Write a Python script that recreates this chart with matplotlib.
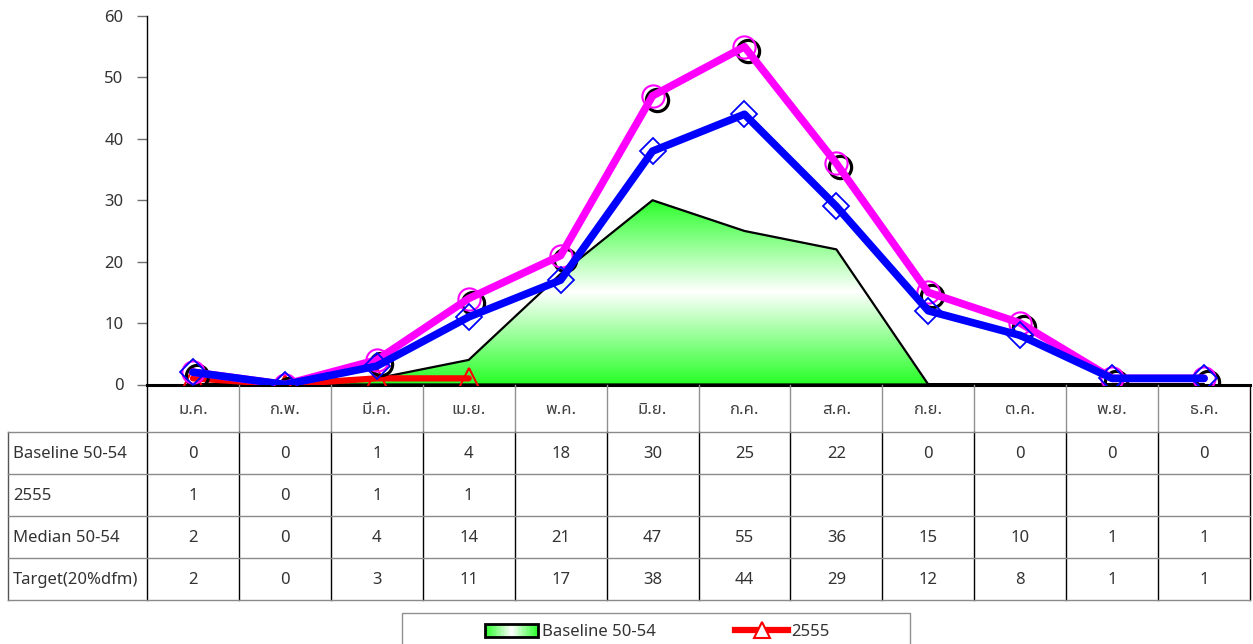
import matplotlib
matplotlib.use("Agg")
import matplotlib.pyplot as plt
import numpy as np
from matplotlib.lines import Line2D
from matplotlib.patches import Rectangle, Patch
from matplotlib.legend_handler import HandlerBase
from matplotlib.transforms import offset_copy

plt.rcParams['font.family'] = ['Noto Sans Thai', 'Noto Sans', 'DejaVu Sans']

# ---------------- data ----------------
months = ['ม.ค.', 'ก.พ.', 'มี.ค.', 'เม.ย.', 'พ.ค.', 'มิ.ย.', 'ก.ค.', 'ส.ค.', 'ก.ย.', 'ต.ค.', 'พ.ย.', 'ธ.ค.']
baseline = [0, 0, 1, 4, 18, 30, 25, 22, 0, 0, 0, 0]
y2555 = [1, 0, 1, 1]
median = [2, 0, 4, 14, 21, 47, 55, 36, 15, 10, 1, 1]
target = [2, 0, 3, 11, 17, 38, 44, 29, 12, 8, 1, 1]
row_labels = ['Baseline 50-54', '2555', 'Median 50-54', 'Target(20%dfm)']
yticks = [0, 10, 20, 30, 40, 50, 60]

GREEN = np.array([0.16, 1.0, 0.16])
WHITE = np.array([1.0, 1.0, 1.0])
TXT = '#333333'
FS = 12

W, H = 1253, 644
fig = plt.figure(figsize=(W / 100, H / 100), dpi=100)

def fx(p):
    return p / W

def fy(p):
    return 1 - p / H

L, R, T, B = 147, 1250, 16, 384.5
ax = fig.add_axes([fx(L), fy(B), fx(R) - fx(L), fy(T) - fy(B)])
x = np.arange(len(months))

# baseline area with vertical green-white-green gradient
poly = ax.fill_between(x, baseline, 0, facecolor='none', edgecolor='black', linewidth=1.6, zorder=2)
top = max(baseline)
yy = np.linspace(0, top, 200)
t = np.abs(yy - top / 2) / (top / 2)
grad = (WHITE[None, :] * (1 - t[:, None]) + GREEN[None, :] * t[:, None])[:, None, :]
im = ax.imshow(grad, extent=(0, len(months) - 1, 0, top), origin='lower', aspect='auto', zorder=1)
im.set_clip_path(poly.get_paths()[0], transform=ax.transData)

# 2555 line
ax.plot(x[:len(y2555)], y2555, color='#FF0000', lw=4.5, marker='^', ms=15, mfc='none',
        mec='#FF0000', mew=1.5, zorder=3, solid_capstyle='round')

# shadow circles for median
shadow_tr = offset_copy(ax.transData, fig=fig, x=4, y=-4, units='dots')
ax.plot(x, median, ls='none', marker='o', ms=16, mfc='none', mec='black', mew=2.3,
        transform=shadow_tr, zorder=3.5)
ax.plot(x, median, color='#FF00FF', lw=5.5, marker='o', ms=16, mfc='none', mec='#FF00FF',
        mew=1.5, zorder=4, solid_joinstyle='round', solid_capstyle='round')
ax.plot(x, target, color='#0000FF', lw=5.5, marker='D', ms=13, mfc='none', mec='#0000FF',
        mew=1.3, zorder=5, solid_joinstyle='round', solid_capstyle='round')

ax.set_xlim(-0.5, len(months) - 0.5)
ax.set_ylim(0, 60)
ax.set_yticks(yticks)
ax.set_xticks([])
for s in ['top', 'right']:
    ax.spines[s].set_visible(False)
ax.spines['left'].set_color('black')
ax.spines['left'].set_linewidth(1.0)
ax.spines['bottom'].set_color('black')
ax.spines['bottom'].set_linewidth(2.2)
ax.spines['bottom'].set_zorder(2.5)
ax.tick_params(axis='y', direction='out', length=7, width=1, color='#707070',
               labelsize=FS, labelcolor=TXT, pad=10)

# ---------------- data table ----------------
cw = (R - L) / len(months)
TL = 8
tax = fig.add_axes([fx(TL), fy(600), fx(R) - fx(TL), fy(B) - fy(600)])
tax.set_xlim(-0.5 - (L - TL) / cw, len(months) - 0.5)
tax.set_ylim(600, B)
tax.axis('off')
row_edges = [432, 474, 516, 558, 600]
x_left = -0.5 - (L - TL) / cw
for k in range(1, len(months)):
    xv = k - 0.5
    tax.plot([xv, xv], [B, row_edges[0]], color='#909090', lw=1, clip_on=False)
    tax.plot([xv, xv], [row_edges[0], row_edges[-1]], color='black', lw=1, clip_on=False)
for xv in [-0.5, len(months) - 0.5]:
    tax.plot([xv, xv], [B, row_edges[-1]], color='black', lw=1, clip_on=False)
tax.plot([x_left, x_left], [row_edges[0], row_edges[-1]], color='#555555', lw=1, clip_on=False)
for yv in row_edges:
    tax.plot([x_left, len(months) - 0.5], [yv, yv], color='#8a8a8a', lw=1, clip_on=False)

for i, m in enumerate(months):
    tax.text(i, (B + row_edges[0]) / 2 + 2, m, ha='center', va='center', fontsize=FS, color='#404040')

rows = [baseline, y2555, median, target]
for r, (lab, vals) in enumerate(zip(row_labels, rows)):
    yc = (row_edges[r] + row_edges[r + 1]) / 2 + 1
    tax.text(x_left + 5 / cw, yc, lab, ha='left', va='center', fontsize=FS, color=TXT)
    for i, v in enumerate(vals):
        tax.text(i, yc, str(v), ha='center', va='center', fontsize=FS, color=TXT)

# ---------------- legend ----------------
class GradHandler(HandlerBase):
    def create_artists(self, legend, orig_handle, xdescent, ydescent, width, height, fontsize, trans):
        arts = []
        n = 40
        for j in range(n):
            tt = abs((j + 0.5) / n - 0.5) / 0.5
            c = WHITE * (1 - tt) + GREEN * tt
            arts.append(Rectangle((-xdescent + width * j / n, -ydescent), width / n + 0.3, height,
                                  facecolor=c, edgecolor='none', transform=trans))
        arts.append(Rectangle((-xdescent, -ydescent), width, height, facecolor='none',
                              edgecolor='black', lw=2, transform=trans))
        return arts

h_base = Patch(label=row_labels[0])
h_2555 = Line2D([], [], color='#FF0000', lw=4.5, marker='^', ms=11, mfc='white', mec='#FF0000', mew=1.5)
leg = fig.legend([h_base, h_2555], [row_labels[0], row_labels[1]],
                 handler_map={Patch: GradHandler()}, ncol=2, frameon=False,
                 loc='center left', bbox_to_anchor=(fx(477), fy(632)), borderpad=0,
                 handlelength=3.15, handleheight=0.8, handletextpad=0.22, columnspacing=4.8,
                 fontsize=FS)
for tx in leg.get_texts():
    tx.set_color(TXT)
fig.patches.append(Rectangle((fx(402), fy(660)), fx(910) - fx(402), fy(613) - fy(660),
                             transform=fig.transFigure, facecolor='none', edgecolor='#909090', lw=1))

fig.savefig("out.png", dpi=100)
